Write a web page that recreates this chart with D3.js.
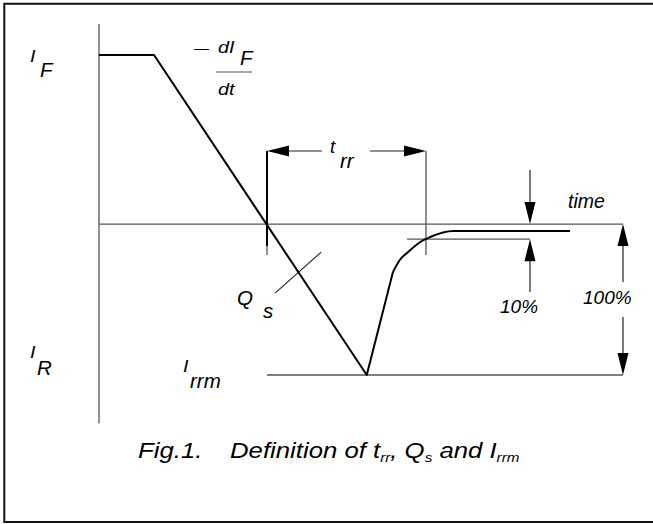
<!DOCTYPE html>
<html>
<head>
<meta charset="utf-8">
<script src="https://cdn.jsdelivr.net/npm/d3@7"></script>
<style>
  body { margin: 0; background: #fff; }
  svg { display: block; }
  text { font-family: "Liberation Sans", Arial, sans-serif; font-style: italic; fill: #000; }
</style>
</head>
<body>
<div id="chart"></div>
<script>
// waveform of the diode current (time in % of axis, current in % of Irrm)
const waveTime = [0, 10.5, 51.1, 56.1];
const waveCurrent = [112, 112, -100, -31.8];
const tailTime = [56.1, 57.4, 59.0, 61.3, 63.2, 67.6, 89.9];
const tailCurrent = [-31.8, -23.8, -18.5, -11.9, -8.6, -4.6, -4.6];

// reference levels: zero, 10 % and Irrm
const levelValues = [0, -10, -100];
// key times: zero crossing, end of trr, 10% marker, 100% marker
const markTimes = [32.06, 62.4, 82.25, 100];

const width = 653, height = 524;
const lineGray = "#555";

let svg = d3.select("#chart").append("svg")
  .attr("width", width)
  .attr("height", height);

const x = d3.scaleLinear().domain([0, 100]).range([99, 623]);
const y = d3.scaleLinear().domain([-100, 112]).range([375, 55]);

// frame (top, left, bottom)
svg.append("path")
  .attr("d", "M653,3.7 H4.3 V522 H653")
  .attr("fill", "none")
  .attr("stroke", "#111")
  .attr("stroke-width", 2);

// simple line helper
function seg(x1, y1, x2, y2, color, w) {
  svg.append("line")
    .attr("x1", x1).attr("y1", y1)
    .attr("x2", x2).attr("y2", y2)
    .attr("stroke", color)
    .attr("stroke-width", w);
}

// filled arrow head, tip at (tx,ty), dir = "left","right","up","down"
function arrowHead(tx, ty, dir) {
  const len = 22, half = 5.5;
  let pts;
  if (dir === "left") pts = [[tx, ty], [tx + len, ty - half], [tx + len, ty + half]];
  if (dir === "right") pts = [[tx, ty], [tx - len, ty - half], [tx - len, ty + half]];
  if (dir === "up") pts = [[tx, ty], [tx - half, ty + len], [tx + half, ty + len]];
  if (dir === "down") pts = [[tx, ty], [tx - half, ty - len], [tx + half, ty - len]];
  svg.append("path")
    .attr("d", "M" + pts.join("L") + "Z")
    .attr("fill", "#000");
}

// axes
seg(x(0), y(132.5), x(0), y(-132), lineGray, 1.3);
seg(x(0), y(levelValues[0]), x(markTimes[3]), y(levelValues[0]), lineGray, 1.3);
seg(x(markTimes[0]), y(levelValues[2]), x(markTimes[3]), y(levelValues[2]), lineGray, 1.3);

// 10% level line
seg(x(58.8), y(levelValues[1]), x(markTimes[2]), y(levelValues[1]), lineGray, 1.3);

// trr boundaries
const trrY = y(48.4);
seg(x(markTimes[0]), trrY, x(markTimes[0]), y(-20.5), lineGray, 1.3);
seg(x(markTimes[0]), trrY, x(markTimes[0]), y(-14.6), "#000", 2);
seg(x(markTimes[1]), trrY, x(markTimes[1]), y(-20.5), lineGray, 1.3);
seg(x(markTimes[0]) + 20, trrY, 322, trrY, "#222", 1.2);
seg(370, trrY, x(markTimes[1]) - 20, trrY, "#222", 1.2);
arrowHead(x(markTimes[0]), trrY, "left");
arrowHead(x(markTimes[1]), trrY, "right");

// 10% arrows
seg(x(markTimes[2]), y(35.8), x(markTimes[2]), y(levelValues[0]) - 20, "#222", 1.2);
arrowHead(x(markTimes[2]), y(levelValues[0]), "down");
seg(x(markTimes[2]), y(levelValues[1]) + 20, x(markTimes[2]), y(-45), "#222", 1.2);
arrowHead(x(markTimes[2]), y(levelValues[1]), "up");

// 100% arrows
seg(x(markTimes[3]), y(levelValues[0]) + 20, x(markTimes[3]), y(-38.4), "#222", 1.2);
arrowHead(x(markTimes[3]), y(levelValues[0]), "up");
seg(x(markTimes[3]), y(-61.6), x(markTimes[3]), y(levelValues[2]) - 20, "#222", 1.2);
arrowHead(x(markTimes[3]), y(levelValues[2]), "down");

// Qs pointer
seg(x(33.6), y(-45.7), x(42.4), y(-18.6), "#222", 1.1);

// current waveform
const straight = d3.line().x(d => x(d[0])).y(d => y(d[1]));
const smooth = d3.line().x(d => x(d[0])).y(d => y(d[1])).curve(d3.curveMonotoneX);

svg.append("path")
  .attr("d", straight(d3.zip(waveTime, waveCurrent)))
  .attr("fill", "none").attr("stroke", "#000").attr("stroke-width", 2)
  .attr("stroke-linejoin", "round");
svg.append("path")
  .attr("d", smooth(d3.zip(tailTime, tailCurrent)))
  .attr("fill", "none").attr("stroke", "#000").attr("stroke-width", 2);

// text helper, sx stretches the glyphs sideways
function label(tx, ty, str, size, sx) {
  return svg.append("text")
    .attr("transform", `translate(${tx},${ty}) scale(${sx || 1},1)`)
    .attr("font-size", size)
    .text(str);
}

// IF, IR, Irrm
label(30, 62, "I", 16.5, 1.2);
label(40, 77, "F", 20.5);
label(30, 358, "I", 16.5, 1.2);
label(37, 375, "R", 20.5);
label(183, 372, "I", 16.5, 1.2);
label(190, 388, "rrm", 20.5);

// -dIF/dt
label(194, 53, "\u2014", 15);
label(218, 53, "dI", 16.5, 1.2);
label(240, 65, "F", 20.5);
seg(216, 72, 252, 72, lineGray, 1.2);
label(218, 95, "dt", 16.5, 1.2);

// trr, Qs, time, percentages
label(330, 153, "t", 18.5);
label(340, 168, "rr", 20.5);
label(237, 305, "Q", 20.5);
label(263, 318, "s", 20.5);
label(568, 208, "time", 19.5);
label(500, 313, "10%", 19);
label(583, 304, "100%", 19);

// caption
let cap = svg.append("text")
  .attr("transform", "translate(138,458) scale(1.17,1)")
  .attr("font-size", 22);
cap.append("tspan").text("Fig.1.");
cap.append("tspan").attr("x", (230 - 138) / 1.17).text("Definition of t");
cap.append("tspan").attr("font-size", 13).attr("dy", 4).text("rr");
cap.append("tspan").attr("dy", -4).text(", Q");
cap.append("tspan").attr("font-size", 13).attr("dy", 4).text("s");
cap.append("tspan").attr("dy", -4).text(" and I");
cap.append("tspan").attr("font-size", 13).attr("dy", 4).text("rrm");
</script>
</body>
</html>
